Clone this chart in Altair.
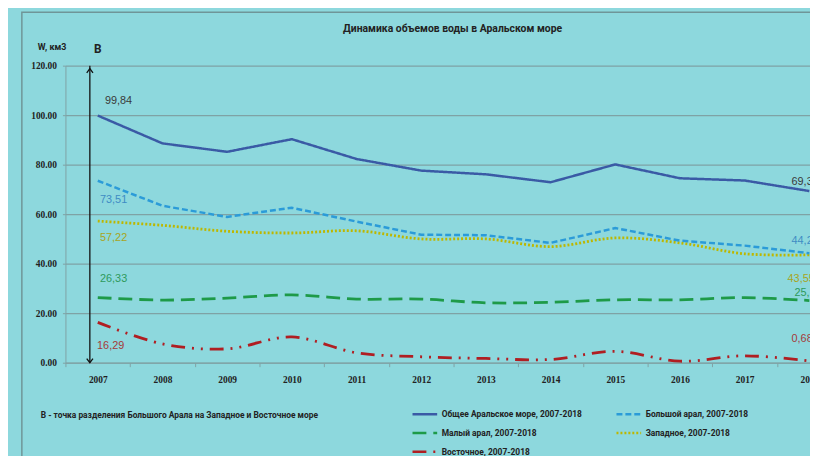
import altair as alt
import pandas as pd

# ---------------- data ----------------
years = list(range(2007, 2019))
series_names = [
    "Общее Аральское море, 2007-2018",
    "Большой арал, 2007-2018",
    "Малый арал, 2007-2018",
    "Западное, 2007-2018",
    "Восточное, 2007-2018",
]
total = [99.84, 88.6, 85.2, 90.3, 82.3, 77.6, 76.1, 72.9, 80.1, 74.5, 73.6, 69.34]
big_aral = [73.51, 63.4, 58.9, 62.6, 57.0, 51.7, 51.5, 48.4, 54.4, 49.3, 47.3, 44.22]
small_aral = [26.33, 25.3, 26.1, 27.4, 25.7, 25.7, 24.2, 24.4, 25.4, 25.4, 26.3, 25.12]
western = [57.22, 55.5, 53.1, 52.4, 53.3, 50.0, 50.0, 46.9, 50.4, 48.4, 44.0, 43.55]
eastern = [16.29, 7.6, 5.6, 10.4, 4.0, 2.4, 1.7, 1.3, 4.6, 0.6, 2.8, 0.68]
y_ticks = [0, 20, 40, 60, 80, 100, 120]

title_text = "Динамика объемов воды в Аральском море"
y_title = "W, км3"
point_label = "В"
note_text = "В - точка разделения Большого Арала на Западное и Восточное море"

# ---------------- styles ----------------
BG = "#8DD8DD"
GRID = "#7FA2A5"
colors = ["#3A5AA5", "#2B9BD8", "#1E9A48", "#BDB700", "#B01E22"]
label_colors = ["#3A3A3A", "#3E8CC4", "#2E9A5C", "#A8A41C", "#A43A3A"]
dashes = [[1, 0], [6, 3], [14, 7], [2, 2], [14, 7, 2, 7, 2, 7]]
NARROW = "Roboto, Liberation Sans, sans-serif"
SERIF = "Liberation Serif, DejaVu Serif, serif"
LABEL_FONT = "Liberation Sans, Arial, sans-serif"

all_values = [total, big_aral, small_aral, western, eastern]
rows = []
for name, vals in zip(series_names, all_values):
    for yr, v in zip(years, vals):
        rows.append({"series": name, "year": yr, "value": v})
df = pd.DataFrame(rows)

band = 784 / 12.0
x_scale = alt.Scale(domain=[2006.5, 2018.5], range=[0, 784], nice=False, zero=False)
y_scale = alt.Scale(domain=[0, 120], nice=False)

x_axis = alt.Axis(
    values=years, format="d", title=None, grid=False,
    tickOffset=-band / 2, labelOffset=band / 2, labelFlush=False, labelOverlap=False,
    domainColor=GRID, tickColor=GRID, tickSize=4, labelPadding=8,
    labelFont=SERIF, labelFontSize=9.5, labelFontWeight="bold", labelColor="#222222",
)
y_axis = alt.Axis(
    values=y_ticks, format=".2f", grid=True, gridColor=GRID, gridWidth=1.2,
    domainColor=GRID, tickColor=GRID, tickSize=3, labelPadding=6,
    labelFont=SERIF, labelFontSize=9.5, labelFontWeight="bold", labelColor="#222222",
    title=y_title, titleAngle=0, titleX=-14, titleY=-19, titleAlign="center",
    titleBaseline="middle", titleFont=NARROW, titleFontSize=9, titleFontWeight="bold",
    titleColor="#222222",
)

legend = alt.Legend(
    orient="none", legendX=349, legendY=338, columns=2, direction="horizontal", title=None,
    symbolType="stroke", symbolSize=620, symbolStrokeWidth=2.5,
    labelFont=NARROW, labelFontSize=8.5, labelFontWeight="bold", labelColor="#222222",
    labelOffset=3, rowPadding=0, columnPadding=29, padding=0, labelLimit=400,
)

color_enc = alt.Color("series:N", scale=alt.Scale(domain=series_names, range=colors), legend=legend)
dash_enc = alt.StrokeDash("series:N", scale=alt.Scale(domain=series_names, range=dashes), legend=legend)

base = alt.Chart(df).encode(
    x=alt.X("year:Q", scale=x_scale, axis=x_axis),
    y=alt.Y("value:Q", scale=y_scale, axis=y_axis),
    color=color_enc,
    strokeDash=dash_enc,
)

linear_set = series_names[:2]
smooth_set = series_names[2:]
lines_linear = base.transform_filter(
    alt.FieldOneOfPredicate(field="series", oneOf=linear_set)
).mark_line(interpolate="linear", strokeWidth=2.5)
lines_smooth = base.transform_filter(
    alt.FieldOneOfPredicate(field="series", oneOf=smooth_set)
).mark_line(interpolate="catmull-rom", strokeWidth=2.8)

# value labels (first and last points)
def fmt(v):
    return f"{v:.2f}".replace(".", ",")

left_offsets = [(21, -15), (16, 19), (16, -19), (16, 17), (13, 24)]
right_offsets = [(-18, -9), (-18, -12), (-15, -8), (-22, 24), (-18, -22)]
label_layers = []
for i, (name, vals) in enumerate(zip(series_names, all_values)):
    ldf = pd.DataFrame({"year": [years[0]], "value": [vals[0]], "txt": [fmt(vals[0])]})
    rdf = pd.DataFrame({"year": [years[-1]], "value": [vals[-1]], "txt": [fmt(vals[-1])]})
    dx, dy = left_offsets[i]
    label_layers.append(
        alt.Chart(ldf).mark_text(
            dx=dx, dy=dy, align="center", baseline="middle", font=LABEL_FONT,
            fontSize=11, color=label_colors[i],
        ).encode(x=alt.X("year:Q", scale=x_scale), y=alt.Y("value:Q", scale=y_scale), text="txt:N")
    )
    dx, dy = right_offsets[i]
    label_layers.append(
        alt.Chart(rdf).mark_text(
            dx=dx, dy=dy, align="left", baseline="middle", font=LABEL_FONT,
            fontSize=11, color=label_colors[i],
        ).encode(x=alt.X("year:Q", scale=x_scale), y=alt.Y("value:Q", scale=y_scale), text="txt:N")
    )

# arrow marking point B
arrow_df = pd.DataFrame({"year": [years[0]], "top": [y_ticks[-1]], "bottom": [y_ticks[0]]})
arrow = alt.Chart(arrow_df).mark_rule(color="#111111", strokeWidth=1.3, xOffset=-8).encode(
    x=alt.X("year:Q", scale=x_scale), y=alt.Y("top:Q", scale=y_scale), y2="bottom:Q"
)
head_up = alt.Chart(arrow_df).mark_point(
    shape="M-0.9,1.2L0,0L0.9,1.2", size=49, filled=False, color="#111111",
    strokeWidth=1.3, xOffset=-8, yOffset=3, opacity=1,
).encode(x=alt.X("year:Q", scale=x_scale), y=alt.Y("top:Q", scale=y_scale))
head_down = alt.Chart(arrow_df).mark_point(
    shape="M-0.9,-1.2L0,0L0.9,-1.2", size=49, filled=False, color="#111111",
    strokeWidth=1.3, xOffset=-8, opacity=1,
).encode(x=alt.X("year:Q", scale=x_scale), y=alt.Y("bottom:Q", scale=y_scale))
b_label = alt.Chart(pd.DataFrame({"year": [years[0]], "top": [y_ticks[-1]], "t": [point_label]})).mark_text(
    dx=0, dy=-17, font=NARROW, fontSize=12, fontWeight="bold", color="#222222"
).encode(x=alt.X("year:Q", scale=x_scale), y=alt.Y("top:Q", scale=y_scale), text="t:N")

note = alt.Chart(pd.DataFrame({"t": [note_text]})).mark_text(
    align="left", baseline="middle", font=NARROW, fontSize=8.5, fontWeight="bold", color="#222222"
).encode(x=alt.value(-25), y=alt.value(353), text="t:N")

title_mark = alt.Chart(pd.DataFrame({"t": [title_text]})).mark_text(
    align="center", baseline="middle", font=NARROW, fontSize=10.5, fontWeight="bold", color="#222222"
).encode(x=alt.value(391), y=alt.value(-37), text="t:N")

frame = alt.Chart(pd.DataFrame({"a": [0]})).mark_rect(
    fill=None, stroke="#6F9598", strokeWidth=1.5
).encode(x=alt.value(-44), x2=alt.value(900), y=alt.value(-54), y2=alt.value(500))

chart = alt.layer(
    frame, lines_smooth, lines_linear, *label_layers, arrow, head_up, head_down, b_label,
    note, title_mark
).properties(
    width=744, height=300,
    autosize=alt.AutoSizeParams(type="none"),
    padding={"left": 58, "top": 56, "right": 8, "bottom": 92},
).configure(background=BG).configure_view(stroke=None)

chart.save("out.html", embed_options={"renderer": "svg", "actions": False})
